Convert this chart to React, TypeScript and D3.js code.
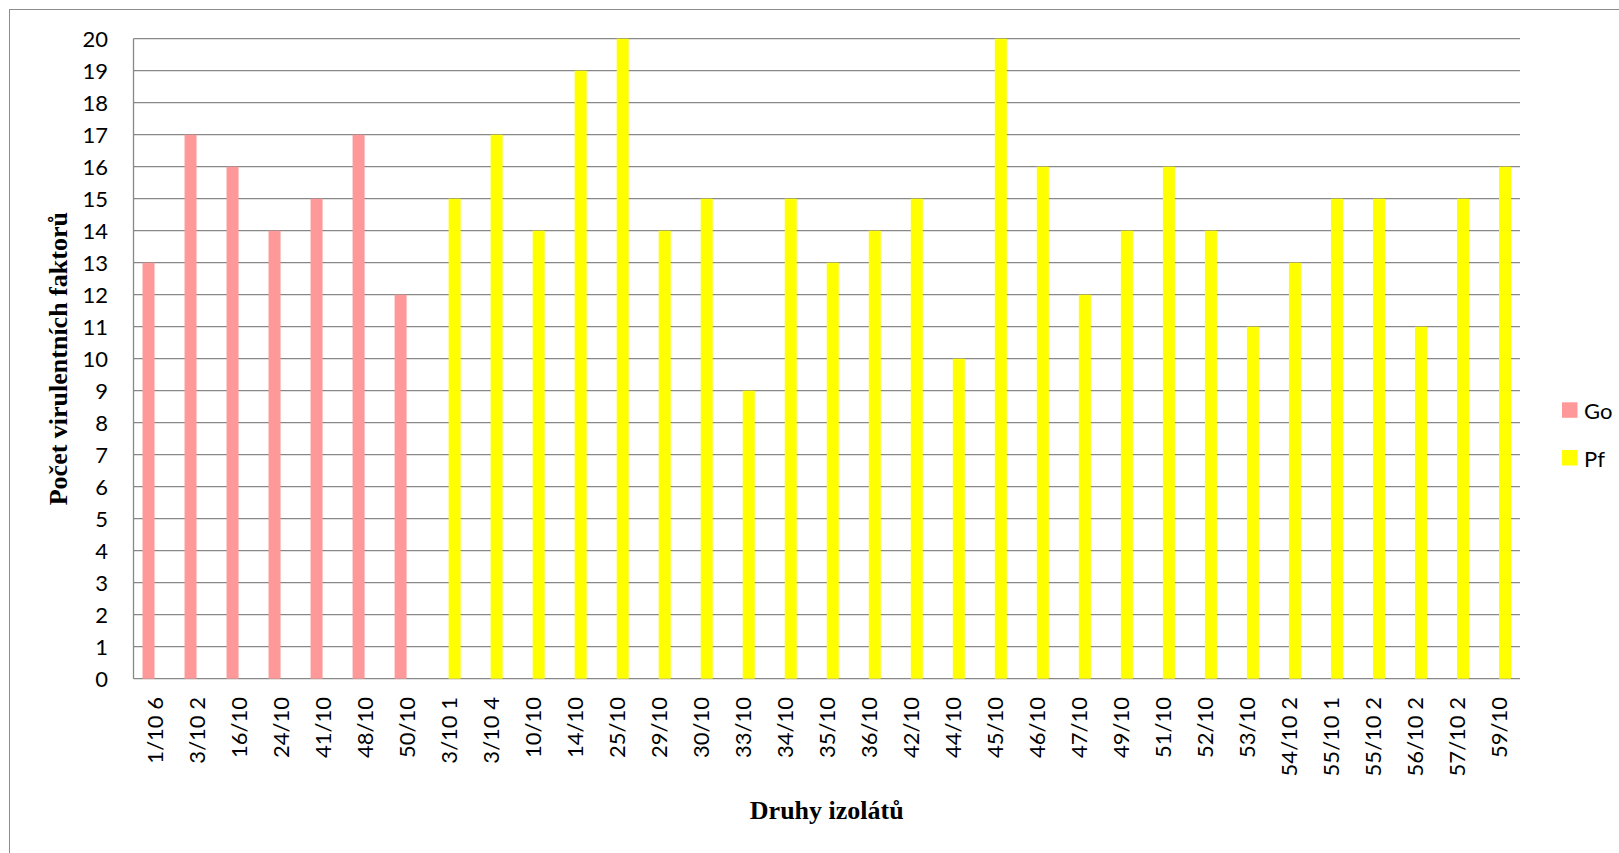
import React from "react";
import * as d3 from "d3";

const categories = [
  "1/10 6", "3/10 2", "16/10", "24/10", "41/10", "48/10", "50/10",
  "3/10 1", "3/10 4", "10/10", "14/10", "25/10", "29/10", "30/10", "33/10",
  "34/10", "35/10", "36/10", "42/10", "44/10", "45/10", "46/10", "47/10",
  "49/10", "51/10", "52/10", "53/10", "54/10 2", "55/10 1", "55/10 2",
  "56/10 2", "57/10 2", "59/10",
];
const goValues: (number | null)[] = [13, 17, 16, 14, 15, 17, 12,
  null, null, null, null, null, null, null, null, null, null, null, null, null,
  null, null, null, null, null, null, null, null, null, null, null, null, null];
const pfValues: (number | null)[] = [null, null, null, null, null, null, null,
  15, 17, 14, 19, 20, 14, 15, 9, 15, 13, 14, 15, 10, 20, 16, 12, 14, 16, 14, 11,
  13, 15, 15, 11, 15, 16];
const yTicks = d3.range(0, 21, 1);
const seriesNames = ["Go", "Pf"];
const seriesColors = ["#FF9999", "#FFFF00"];

const W = 1619, H = 853;
const plot = { left: 133.5, right: 1520, top: 38.7, bottom: 678.7 };
const FONT = "Lato, 'Open Sans', sans-serif";
const SERIF = "'Liberation Serif', 'Times New Roman', serif";

export default function App() {
  const x = d3.scaleBand<string>().domain(categories).range([plot.left, plot.right]).paddingInner(0).paddingOuter(0);
  const y = d3.scaleLinear().domain([0, 20]).range([plot.bottom, plot.top]);
  const bw = x.bandwidth();
  const barW = bw / 3.5;
  const inner = d3.scaleBand<string>().domain(seriesNames).range([0, barW * 2]);
  const groupOffset = (bw - barW * 2) / 2;
  const series = [goValues, pfValues];

  return (
    <svg width={W} height={H} style={{ position: "absolute", left: 0, top: 0, background: "#fff" }}>
      <rect x={9.5} y={9.5} width={W + 20} height={H + 20} fill="#fff" stroke="#8c8c8c" strokeWidth={1} />
      {yTicks.map((t) => (
        <line key={"g" + t} x1={plot.left} x2={plot.right} y1={y(t)} y2={y(t)} stroke="#888" strokeWidth={1.3} />
      ))}
      <line x1={plot.left} x2={plot.left} y1={plot.top} y2={plot.bottom} stroke="#888" strokeWidth={1.3} />
      {series.map((vals, si) =>
        vals.map((v, i) =>
          v == null ? null : (
            <rect
              key={si + "-" + i}
              x={(x(categories[i]) as number) + groupOffset + (inner(seriesNames[si]) as number)}
              y={y(v)}
              width={barW}
              height={y(0) - y(v)}
              fill={seriesColors[si]}
            />
          )
        )
      )}
      {yTicks.map((t) => (
        <text key={"yl" + t} x={108} y={y(t)} textAnchor="end" dominantBaseline="central" fontFamily={FONT} fontSize={22} fill="#000">
          {t}
        </text>
      ))}
      {categories.map((c) => (
        <text
          key={"xl" + c}
          transform={`translate(${(x(c) as number) + bw / 2},697) rotate(-90)`}
          textAnchor="end"
          dominantBaseline="central"
          fontFamily={FONT}
          fontSize={22}
          fill="#000"
        >
          {c}
        </text>
      ))}
      <text
        transform={`translate(58,${(plot.top + plot.bottom) / 2}) rotate(-90)`}
        textAnchor="middle"
        dominantBaseline="central"
        fontFamily={SERIF}
        fontWeight="bold"
        fontSize={26}
        fill="#000"
      >
        Počet virulentních faktorů
      </text>
      <text x={(plot.left + plot.right) / 2} y={819} textAnchor="middle" fontFamily={SERIF} fontWeight="bold" fontSize={26} fill="#000">
        Druhy izolátů
      </text>
      {seriesNames.map((s, i) => (
        <g key={"lg" + s} transform={`translate(1562,${402.3 + i * 47.7})`}>
          <rect x={0} y={0} width={15.5} height={15.5} fill={seriesColors[i]} />
          <text x={22} y={8} dominantBaseline="central" fontFamily={FONT} fontSize={22} fill="#000">
            {s}
          </text>
        </g>
      ))}
    </svg>
  );
}
